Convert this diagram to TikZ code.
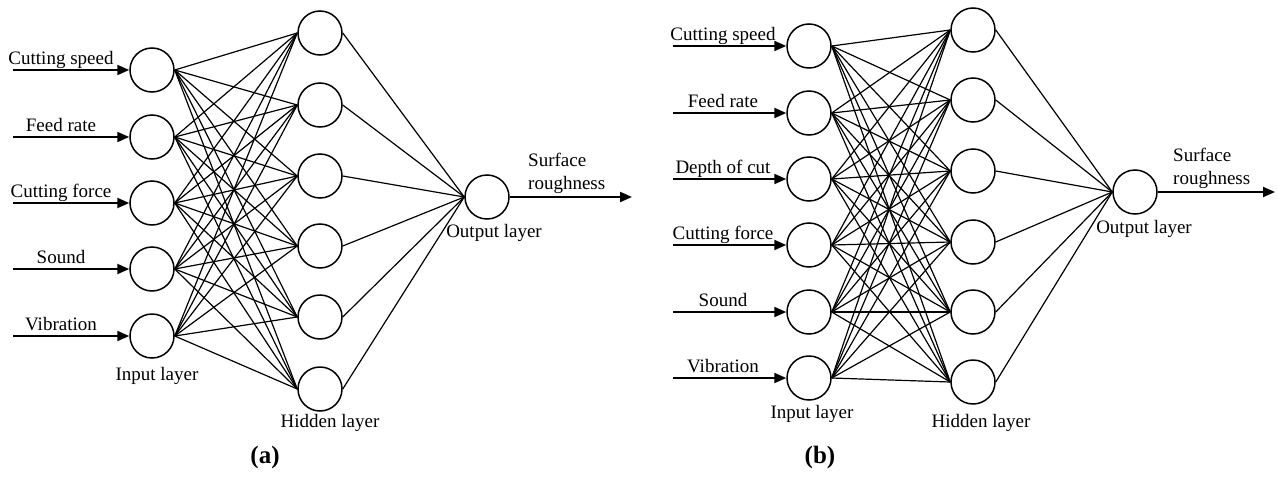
\documentclass[tikz,border=0pt]{standalone}
\usepackage{fontspec}
\setmainfont{Liberation Serif}
\usetikzlibrary{arrows.meta}
\tikzset{
  neuron/.style={draw,circle,line width=1.5pt,minimum size=44pt,inner sep=0pt},
  feed/.style={line width=2pt,-{Triangle[length=12pt,width=10pt]}},
  link/.style={line width=1.2pt},
  lbl/.style={inner sep=0pt,font=\fontsize{19}{23}\selectfont},
  panelcap/.style={inner sep=0pt,font=\fontsize{25}{28}\selectfont\bfseries}
}
\begin{document}
\begin{tikzpicture}[x=1pt,y=-1pt]
      \useasboundingbox (0,0) rectangle (1277,479);
      \def \InputsA{
        1/70/Cutting speed,
        2/137/Feed rate,
        3/203/Cutting force,
        4/269/Sound,
        5/336/Vibration}
      \def \InputsB{
        1/46/Cutting speed,
        2/113/Feed rate,
        3/179/Depth of cut,
        4/245/Cutting force,
        5/312/Sound,
        6/378/Vibration}
      \def \HiddenA{1/33,2/105,3/176,4/246,5/317,6/389}
      \def \HiddenB{1/30,2/100,3/171,4/242,5/312,6/382}
      % (a)
      \foreach \id / \y / \txt in \InputsA{
        \node[neuron] (ia\id) at (152,\y) {};
        \coordinate (sa\id) at (13,\y);
        \node[lbl,anchor=base] (ta\id) at (61,\y-6) {\txt};
        \path[draw,feed] (sa\id) -- (ia\id);
      }
      \foreach \id / \y in \HiddenA{
        \node[neuron] (ha\id) at (320,\y) {};
      }
      \node[neuron] (oa) at (487,197) {};
      \coordinate (ea) at (632,197);
      \foreach \i in {1,...,5}{
        \foreach \j in {1,...,6}{
          \path[draw,link] (ia\i.east) -- (ha\j.west);
        }
      }
      \foreach \j in {1,...,6}{
        \path[draw,link] (ha\j.east) -- (oa.west);
      }
      \path[draw,feed] (oa) -- (ea);
      \node[lbl,anchor=base] (ila) at (157,380) {Input layer};
      \node[lbl,anchor=base] (hla) at (330,427) {Hidden layer};
      \node[lbl,anchor=base] (ola) at (494,237) {Output layer};
      \node[lbl,anchor=south west,align=left] (sra) at (528,194) {Surface\\roughness};
      \node[panelcap] (capa) at (265,457) {(a)};
      % (b)
      \foreach \id / \y / \txt in \InputsB{
        \node[neuron] (ib\id) at (809,\y) {};
        \coordinate (sb\id) at (673,\y);
        \node[lbl,anchor=base] (tb\id) at (723,\y-6) {\txt};
        \path[draw,feed] (sb\id) -- (ib\id);
      }
      \foreach \id / \y in \HiddenB{
        \node[neuron] (hb\id) at (973,\y) {};
      }
      \node[neuron] (ob) at (1135,192) {};
      \coordinate (eb) at (1275,192);
      \foreach \i in {1,...,6}{
        \foreach \j in {1,...,6}{
          \path[draw,link] (ib\i.east) -- (hb\j.west);
        }
      }
      \foreach \j in {1,...,6}{
        \path[draw,link] (hb\j.east) -- (ob.west);
      }
      \path[draw,feed] (ob) -- (eb);
      \node[lbl,anchor=base] (ilb) at (812,418) {Input layer};
      \node[lbl,anchor=base] (hlb) at (981,427) {Hidden layer};
      \node[lbl,anchor=base] (olb) at (1144,233) {Output layer};
      \node[lbl,anchor=south west,align=left] (srb) at (1173,189) {Surface\\roughness};
      \node[panelcap] (capb) at (820,457) {(b)};
\end{tikzpicture}
\end{document}
